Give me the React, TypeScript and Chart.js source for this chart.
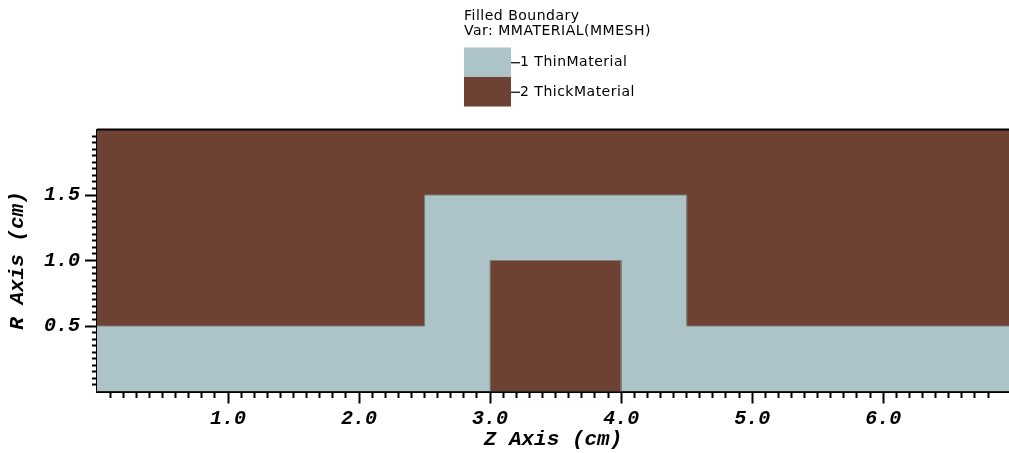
import React, { useEffect, useRef } from "react";
import { Chart, registerables } from "chart.js";

Chart.register(...registerables);

// ---- data ----
const legendTitle = ["Filled Boundary", "Var: MMATERIAL(MMESH)"];
const materialNames = ["1 ThinMaterial", "2 ThickMaterial"];
const materialColors = ["#acc3c8", "#6e4233"];

// outer thick material (fills the whole domain)
const thickOuterZ = [0, 7];
const thickOuterR = [2, 2];
// thin material boundary (step shape)
const thinZ = [0, 2.5, 2.5, 4.5, 4.5, 7];
const thinR = [0.5, 0.5, 1.5, 1.5, 0.5, 0.5];
// inner thick material block
const thickInnerZ = [3, 3, 4, 4];
const thickInnerR = [0, 1, 1, 0];

const zMin = 0;
const zMax = 6.96;
const rMin = 0;
const rMax = 2;
const zMinorStep = 0.1;
const zMajorStep = 1;
const rMinorStep = 0.05;
const rMajorStep = 0.5;

const xTitle = "Z Axis (cm)";
const yTitle = "R Axis (cm)";

const toPts = (xs: number[], ys: number[]) => xs.map((x, i) => ({ x, y: ys[i] }));
const isMult = (v: number, step: number) => Math.abs(v / step - Math.round(v / step)) < 1e-6;

const tickFont = { family: "'Liberation Mono', monospace", size: 20, weight: "bold" as const, style: "italic" as const };
const titleFont = { family: "'Liberation Mono', monospace", size: 21, weight: "bold" as const, style: "italic" as const };

const decorPlugin = {
  id: "decor",
  afterDraw(chart: any) {
    const { ctx, chartArea } = chart;
    ctx.save();
    // top border
    ctx.strokeStyle = "#000";
    ctx.lineWidth = 2;
    ctx.beginPath();
    ctx.moveTo(chartArea.left, chartArea.top);
    ctx.lineTo(chartArea.right, chartArea.top);
    ctx.stroke();

    // legend
    const lx = 464;
    ctx.fillStyle = "#000";
    ctx.font = "14px 'DejaVu Sans', Verdana, sans-serif";
    (ctx as any).letterSpacing = "0.5px";
    ctx.textBaseline = "middle";
    ctx.textAlign = "left";
    ctx.fillText(legendTitle[0], lx, 16);
    ctx.fillText(legendTitle[1], lx, 31.5);
    const sw = 47;
    const sh = 29.5;
    let y = 47.5;
    materialNames.forEach((name, i) => {
      ctx.fillStyle = materialColors[i];
      ctx.fillRect(lx, y, sw, sh);
      ctx.strokeStyle = "#000";
      ctx.lineWidth = 1.2;
      ctx.beginPath();
      ctx.moveTo(lx + sw, y + sh / 2 + 0.5);
      ctx.lineTo(lx + sw + 9, y + sh / 2 + 0.5);
      ctx.stroke();
      ctx.fillStyle = "#000";
      ctx.fillText(name, lx + sw + 9, y + sh / 2 + 0.5);
      y += sh;
    });
    ctx.restore();
  },
};

export default function App() {
  const ref = useRef<HTMLCanvasElement>(null);
  useEffect(() => {
    if (!ref.current) return;
    const chart = new Chart(ref.current, {
      type: "line",
      data: {
        datasets: [
          {
            data: toPts(thickOuterZ, thickOuterR),
            backgroundColor: materialColors[1],
            borderWidth: 0,
            fill: "origin",
            pointRadius: 0,
            order: 3,
          },
          {
            data: toPts(thinZ, thinR),
            backgroundColor: materialColors[0],
            borderColor: "rgba(125,125,125,0.9)",
            borderWidth: 1,
            fill: "origin",
            pointRadius: 0,
            order: 2,
          },
          {
            data: toPts(thickInnerZ, thickInnerR),
            backgroundColor: materialColors[1],
            borderColor: "rgba(125,125,125,0.9)",
            borderWidth: 1,
            fill: "origin",
            pointRadius: 0,
            order: 1,
          },
        ],
      },
      options: {
        animation: false,
        responsive: false,
        devicePixelRatio: 1,
        layout: { padding: { top: 129.5, left: 0, right: 0, bottom: 0 } },
        plugins: { legend: { display: false }, tooltip: { enabled: false } },
        elements: { line: { tension: 0 } },
        scales: {
          x: {
            type: "linear",
            min: zMin,
            max: zMax,
            afterFit: (s: any) => {
              s.height = 61.5;
              s.paddingLeft = 0;
              s.paddingRight = 0;
            },
            border: { display: true, color: "#000", width: 2 },
            grid: {
              drawOnChartArea: false,
              drawTicks: true,
              tickLength: 12,
              tickWidth: 2,
              tickColor: (c: any) =>
                c.tick && c.tick.value > 0 && isMult(c.tick.value, zMinorStep) ? "#000" : "rgba(0,0,0,0)",
              tickBorderDash: (c: any) => (c.tick && isMult(c.tick.value, zMajorStep) ? [] : [5, 30]),
            },
            ticks: {
              stepSize: zMinorStep,
              autoSkip: false,
              maxRotation: 0,
              padding: 3,
              color: "#000",
              font: tickFont,
              callback: (v: any) => {
                const n = Number(v);
                return n > 0 && isMult(n, zMajorStep) ? n.toFixed(1) : "";
              },
            },
            title: {
              display: true,
              text: xTitle,
              color: "#000",
              font: titleFont,
              padding: { top: 0, bottom: 1 },
            },
          },
          y: {
            type: "linear",
            min: rMin,
            max: rMax,
            afterFit: (s: any) => {
              s.width = 97;
            },
            border: { display: true, color: "#000", width: 2 },
            grid: {
              drawOnChartArea: false,
              drawTicks: true,
              tickLength: 12,
              tickWidth: 2,
              tickColor: (c: any) =>
                c.tick && c.tick.value > 0 && c.tick.value < rMax ? "#000" : "rgba(0,0,0,0)",
              tickBorderDash: (c: any) => (c.tick && isMult(c.tick.value, rMajorStep) ? [] : [0, 7, 5, 30]),
            },
            ticks: {
              stepSize: rMinorStep,
              autoSkip: false,
              padding: 5,
              color: "#000",
              font: tickFont,
              callback: (v: any) => {
                const n = Number(v);
                return n > 0 && n < rMax && isMult(n, rMajorStep) ? n.toFixed(1) : "";
              },
            },
            title: {
              display: true,
              text: yTitle,
              color: "#000",
              font: titleFont,
              padding: { top: 5, bottom: 0 },
            },
          },
        },
      },
      plugins: [decorPlugin],
    } as any);
    return () => chart.destroy();
  }, []);
  return (
    <div style={{ position: "absolute", left: 0, top: 0, width: 1009, height: 453, background: "#fff" }}>
      <canvas ref={ref} width={1009} height={453} />
    </div>
  );
}
